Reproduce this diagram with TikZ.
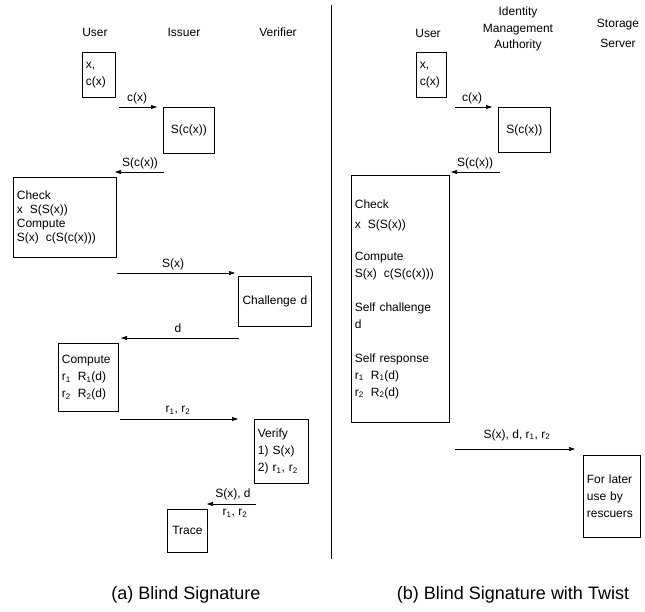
\documentclass[tikz,border=0pt]{standalone}
\usepackage{fontspec}
\setmainfont{Liberation Sans}
\usetikzlibrary{arrows.meta}
\newcommand\dfont{\fontsize{12}{17}\selectfont}
\newcommand\tfont{\fontsize{12}{14}\selectfont}
\newcommand\cfont{\fontsize{18}{22}\selectfont}
\newcommand\gapx{\hspace{7pt}}
\begin{document}
\begin{tikzpicture}[x=1pt,y=-1pt,
  box/.style={draw, line width=0.8pt, anchor=north west, inner xsep=3.5pt, inner ysep=0pt, font=\dfont},
  lbl/.style={inner sep=0pt, font=\dfont},
  hdr/.style={inner sep=0pt, font=\dfont, align=center},
  msg/.style={line width=0.6pt, -{Triangle[length=6pt,width=4pt]}},
  captext/.style={inner sep=0pt, font=\cfont}]
\useasboundingbox (0,0) rectangle (645,611);
% divider
\draw[line width=0.9pt] (331,5) -- (331,559);
% ---------- (a) ----------
\node[hdr] (hU) at (95,32) {User};
\node[hdr] (hI) at (184,32) {Issuer};
\node[hdr] (hV) at (278,32) {Verifier};
\node[box, align=left, text width=26pt, minimum height=45pt] (aux) at (82,52) {x,\\c(x)};
\node[box, align=center, text width=44pt, minimum height=46pt] (ais) at (163,107) {S(c(x))};
\node[box, align=left, text width=96pt, minimum height=80pt, font=\tfont] (achk) at (13,177) {Check\\x\gapx S(S(x))\\Compute\\S(x)\gapx c(S(c(x)))};
\node[box, align=center, text width=66pt, minimum height=50pt] (ach) at (238,276) {Challenge d};
\node[box, align=left, text width=53pt, minimum height=68pt] (acmp) at (58,343) {Compute\\r\textsubscript{1}\gapx R\textsubscript{1}(d)\\r\textsubscript{2}\gapx R\textsubscript{2}(d)};
\node[box, align=left, text width=47pt, minimum height=64pt] (aver) at (254,419) {Verify\\1)\ S(x)\\2)\ r\textsubscript{1}, r\textsubscript{2}};
\node[box, align=center, text width=33pt, minimum height=43pt] (atr) at (167,509) {Trace};
% arrows (a)
\coordinate (a1s) at (119,107); \coordinate (a1e) at (157,107);
\draw[msg] (a1s) -- (a1e);
\node[lbl] (l1) at (137,98) {c(x)};
\coordinate (a2s) at (164,172); \coordinate (a2e) at (115,172);
\draw[msg] (a2s) -- (a2e);
\node[lbl] (l2) at (140,163) {S(c(x))};
\coordinate (a3s) at (117,273); \coordinate (a3e) at (235,273);
\draw[msg] (a3s) -- (a3e);
\node[lbl] (l3) at (173,264) {S(x)};
\coordinate (a4s) at (239,338); \coordinate (a4e) at (121,338);
\draw[msg] (a4s) -- (a4e);
\node[lbl] (l4) at (178,328) {d};
\coordinate (a5s) at (120,419); \coordinate (a5e) at (238,419);
\draw[msg] (a5s) -- (a5e);
\node[lbl] (l5) at (178,410) {r\textsubscript{1}, r\textsubscript{2}};
\coordinate (a6s) at (256,504); \coordinate (a6e) at (207,504);
\draw[msg] (a6s) -- (a6e);
\node[lbl] (l6) at (233,494) {S(x), d};
\node[lbl] (l7) at (235,513) {r\textsubscript{1}, r\textsubscript{2}};
% ---------- (b) ----------
\node[hdr] (bU) at (428,33) {User};
\node[hdr, font=\fontsize{12}{16.5}\selectfont] (bI) at (518,29) {Identity\\Management\\Authority};
\node[hdr, font=\fontsize{12}{20}\selectfont] (bS) at (618,33) {Storage\\Server};
\node[box, align=left, text width=23pt, minimum height=45pt] (bux) at (416,52) {x,\\c(x)};
\node[box, align=center, text width=45pt, minimum height=45pt] (bis) at (498,107) {S(c(x))};
\node[box, align=left, text width=91pt, minimum height=247pt] (bbig) at (351,175) {Check\\[3pt]x\gapx S(S(x))\\[15pt]Compute\\S(x)\gapx c(S(c(x)))\\[17pt]Self challenge\\d\\[17pt]Self response\\r\textsubscript{1}\gapx R\textsubscript{1}(d)\\r\textsubscript{2}\gapx R\textsubscript{2}(d)};
\node[box, align=left, text width=50pt, minimum height=82pt] (bst) at (583,455) {For later\\use by\\rescuers};
% arrows (b)
\coordinate (b1s) at (455,107); \coordinate (b1e) at (492,107);
\draw[msg] (b1s) -- (b1e);
\node[lbl] (m1) at (472,98) {c(x)};
\coordinate (b2s) at (500,172); \coordinate (b2e) at (451,172);
\draw[msg] (b2s) -- (b2e);
\node[lbl] (m2) at (475,163) {S(c(x))};
\coordinate (b3s) at (455,449); \coordinate (b3e) at (575,449);
\draw[msg] (b3s) -- (b3e);
\node[lbl] (m3) at (517,435) {S(x), d, r\textsubscript{1}, r\textsubscript{2}};
% captions
\node[captext] (ca) at (186,595) {(a) Blind Signature};
\node[captext] (cb) at (513,595) {(b) Blind Signature with Twist};
\end{tikzpicture}
\end{document}
